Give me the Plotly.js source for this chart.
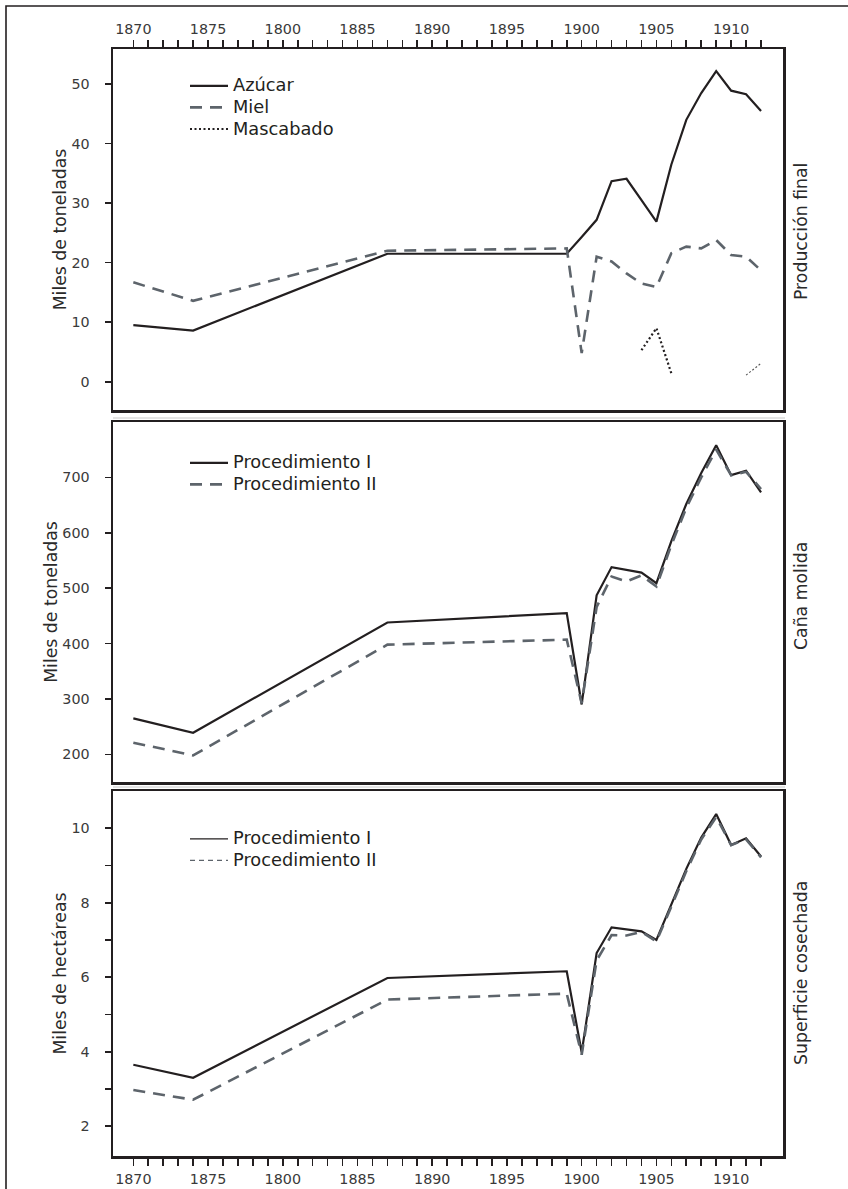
<!DOCTYPE html>
<html>
<head>
<meta charset="utf-8">
<script src="https://cdn.plot.ly/plotly-3.0.1.min.js"></script>
<style>
  html, body { margin: 0; padding: 0; background: #ffffff; }
  #chart { width: 848px; height: 1189px; }
</style>
</head>
<body>
<div id="chart"></div>
<script>
// ---------------- DATA ----------------
const years = [1870, 1874, 1887, 1899, 1900, 1901, 1902, 1903, 1904, 1905, 1906, 1907, 1908, 1909, 1910, 1911, 1912];

// Producción final (miles de toneladas)
const azucar    = [9.5, 8.6, 21.5, 21.5, 24.3, 27.2, 33.7, 34.1, 30.5, 26.9, 36.5, 44.0, 48.5, 52.2, 48.9, 48.3, 45.5];
const miel      = [16.7, 13.6, 22.0, 22.4, 4.8, 21.0, 20.2, 18.2, 16.5, 15.9, 21.6, 22.7, 22.4, 23.8, 21.3, 21.0, 18.7];
const mascabado = [null, null, null, null, null, null, null, null, 5.3, 9.0, 1.4, null, null, null, null, 1.1, 3.1];

// Caña molida (miles de toneladas)
const canaProc1 = [265, 239, 438, 455, 290, 487, 538, 533, 528, 509, 585, 652, 708, 758, 704, 712, 673];
const canaProc2 = [221, 198, 398, 407, 292, 466, 521, 512, 523, 503, 578, 645, 700, 750, 704, 710, 679];

// Superficie cosechada (miles de hectáreas)
const supProc1 = [3.65, 3.30, 5.98, 6.16, 3.98, 6.65, 7.34, 7.28, 7.23, 7.00, 7.94, 8.91, 9.75, 10.38, 9.55, 9.73, 9.24];
const supProc2 = [2.97, 2.71, 5.40, 5.56, 3.92, 6.45, 7.13, 7.12, 7.22, 6.96, 7.90, 8.85, 9.70, 10.30, 9.55, 9.70, 9.22];

// Tick labels (as printed in the original, including "1800")
const xLabelYears = [1870, 1875, 1880, 1885, 1890, 1895, 1900, 1905, 1910];
const xLabelTexts = ["1870", "1875", "1800", "1885", "1890", "1895", "1900", "1905", "1910"];
const xTickFirst = 1870, xTickLast = 1912;

const y1Ticks = [0, 10, 20, 30, 40, 50];
const y2Ticks = [200, 300, 400, 500, 600, 700];
const y3Ticks = [2, 3, 4, 5, 6, 7, 8, 9, 10];
const y3Labels = ["2", "", "4", "", "6", "", "8", "", "10"];

const seriesNames = {
  azucar: "Azúcar", miel: "Miel", mascabado: "Mascabado",
  p1: "Procedimiento I", p2: "Procedimiento II"
};
const panelTitles = ["Producción final", "Caña molida", "Superficie cosechada"];
const yTitles = ["Miles de toneladas", "Miles de toneladas", "Miles de hectáreas"];

// ---------------- STYLE ----------------
const INK = "#231f20";
const GREY = "#5d646b";
const FONT = "DejaVu Sans";

const xTickVals = [], xTickText = [];
for (let y = xTickFirst; y <= xTickLast; y++) {
  xTickVals.push(y);
  const k = xLabelYears.indexOf(y);
  xTickText.push(k >= 0 ? xLabelTexts[k] : "");
}

// legend text drawn larger than the row pitch (rows are tight in the original)
const big = s => '<span style="font-size:17.8px">' + s + '</span>';

// split mascabado into its two printed segments
const mascA = mascabado.map((v, i) => (years[i] <= 1906 ? v : null));
const mascB = mascabado.map((v, i) => (years[i] > 1906 ? v : null));

const traces = [
  { x: years, y: azucar, name: big(seriesNames.azucar), type: "scatter", mode: "lines",
    line: { color: INK, width: 2.2 }, xaxis: "x", yaxis: "y", legend: "legend" },
  { x: years, y: miel, name: big(seriesNames.miel), type: "scatter", mode: "lines",
    line: { color: GREY, width: 2.6, dash: "12px,8px" }, xaxis: "x", yaxis: "y", legend: "legend" },
  { x: years, y: mascA, name: big(seriesNames.mascabado), type: "scatter", mode: "lines",
    line: { color: INK, width: 2.2, dash: "2px,2.5px" }, xaxis: "x", yaxis: "y", legend: "legend" },
  { x: years, y: mascB, name: seriesNames.mascabado, type: "scatter", mode: "lines", showlegend: false,
    line: { color: "#555555", width: 1.1, dash: "2px,2px" }, xaxis: "x", yaxis: "y" },

  { x: years, y: canaProc1, name: big(seriesNames.p1), type: "scatter", mode: "lines",
    line: { color: INK, width: 2.2 }, xaxis: "x2", yaxis: "y2", legend: "legend2" },
  { x: years, y: canaProc2, name: big(seriesNames.p2), type: "scatter", mode: "lines",
    line: { color: GREY, width: 2.6, dash: "12px,8px" }, xaxis: "x2", yaxis: "y2", legend: "legend2" },

  { x: years, y: supProc1, name: seriesNames.p1, type: "scatter", mode: "lines", showlegend: false,
    line: { color: INK, width: 2.2 }, xaxis: "x3", yaxis: "y3" },
  { x: years, y: supProc2, name: seriesNames.p2, type: "scatter", mode: "lines", showlegend: false,
    line: { color: GREY, width: 2.6, dash: "12px,8px" }, xaxis: "x3", yaxis: "y3" },
  // legend keys for the bottom panel (thin, as printed)
  { x: [null], y: [null], name: big(seriesNames.p1), type: "scatter", mode: "lines",
    line: { color: INK, width: 1.2 }, xaxis: "x3", yaxis: "y3", legend: "legend3" },
  { x: [null], y: [null], name: big(seriesNames.p2), type: "scatter", mode: "lines",
    line: { color: GREY, width: 1.2, dash: "5px,4px" }, xaxis: "x3", yaxis: "y3", legend: "legend3" }
];

const xRange = [1868.64, 1913.47];
const frame = { showline: true, linecolor: INK, linewidth: 2.5, mirror: true,
                showgrid: false, zeroline: false };
const tickFont = { family: FONT, size: 14.3, color: "#3a3a3a" };

function xAxis(extra) {
  return Object.assign({}, frame, {
    range: xRange, tickmode: "array", tickvals: xTickVals, ticktext: xTickText,
    ticks: "outside", ticklen: 7, tickwidth: 1.6, tickcolor: INK,
    tickfont: tickFont, tickangle: 0, fixedrange: true
  }, extra);
}
function yAxis(extra) {
  return Object.assign({}, frame, {
    tickmode: "array", ticks: "outside", ticklen: 6, tickwidth: 1.6, tickcolor: INK,
    tickfont: tickFont, ticklabelstandoff: 12, fixedrange: true
  }, extra);
}
const titleFont = { family: FONT, size: 17.3, color: "#2a2a2a" };

// pixel helpers for paper coordinates
const M = { l: 113, r: 65, t: 49, b: 33 };
const W = 848, H = 1189;
const pw = W - M.l - M.r, ph = H - M.t - M.b;
const px = v => (v - M.l) / pw;
const py = v => (H - M.b - v) / ph;

const legendBase = { bgcolor: "rgba(0,0,0,0)", borderwidth: 0, xanchor: "left", yanchor: "top",
  font: { family: FONT, size: 14.3, color: INK }, traceorder: "normal", itemwidth: 38,
  itemclick: false, itemdoubleclick: false };

const layout = {
  width: W, height: H,
  margin: M,
  paper_bgcolor: "#ffffff", plot_bgcolor: "#ffffff",
  font: { family: FONT, color: INK },
  showlegend: true,
  xaxis:  xAxis({ anchor: "y",  side: "top", ticklabelstandoff: 0 }),
  xaxis2: xAxis({ anchor: "y2", ticks: "", showticklabels: false }),
  xaxis3: xAxis({ anchor: "y3", side: "bottom", ticklabelstandoff: 1 }),
  yaxis:  yAxis({ domain: [py(410), py(49)], range: [-4.75, 55.9], tickvals: y1Ticks,
                  title: { text: yTitles[0], font: titleFont, standoff: 1 } }),
  yaxis2: yAxis({ domain: [py(782), py(422)], range: [150, 800], tickvals: y2Ticks,
                  title: { text: yTitles[1], font: titleFont, standoff: 1 } }),
  yaxis3: yAxis({ domain: [py(1156), py(791)], range: [1.2, 11.0], tickvals: y3Ticks, ticktext: y3Labels,
                  title: { text: yTitles[2], font: titleFont, standoff: 1 } }),
  legend:  Object.assign({}, legendBase, { x: px(185), y: py(70) }),
  legend2: Object.assign({}, legendBase, { x: px(185), y: py(447) }),
  legend3: Object.assign({}, legendBase, { x: px(185), y: py(823) }),
  annotations: [
    { text: panelTitles[0], xref: "paper", yref: "paper", x: px(801), y: py(232), textangle: -90,
      showarrow: false, font: titleFont, xanchor: "center", yanchor: "middle" },
    { text: panelTitles[1], xref: "paper", yref: "paper", x: px(801), y: py(596), textangle: -90,
      showarrow: false, font: titleFont, xanchor: "center", yanchor: "middle" },
    { text: panelTitles[2], xref: "paper", yref: "paper", x: px(801), y: py(973), textangle: -90,
      showarrow: false, font: titleFont, xanchor: "center", yanchor: "middle" }
  ],
  shapes: [
    // outer border of the figure (left and top edges)
    { type: "path", xref: "paper", yref: "paper", layer: "below",
      path: "M " + px(6) + " " + py(H + 2) + " L " + px(6) + " " + py(6) + " L " + px(W + 2) + " " + py(6),
      line: { color: INK, width: 1.6 } },
    // light separators between panels
    { type: "line", xref: "paper", yref: "paper", x0: px(113), x1: px(785), y0: py(418), y1: py(418),
      line: { color: "#c8c8c8", width: 1 } },
    { type: "line", xref: "paper", yref: "paper", x0: px(113), x1: px(785), y0: py(787), y1: py(787),
      line: { color: "#c8c8c8", width: 1 } }
  ]
};

Plotly.newPlot("chart", traces, layout, { staticPlot: true, displayModeBar: false });
</script>
</body>
</html>
